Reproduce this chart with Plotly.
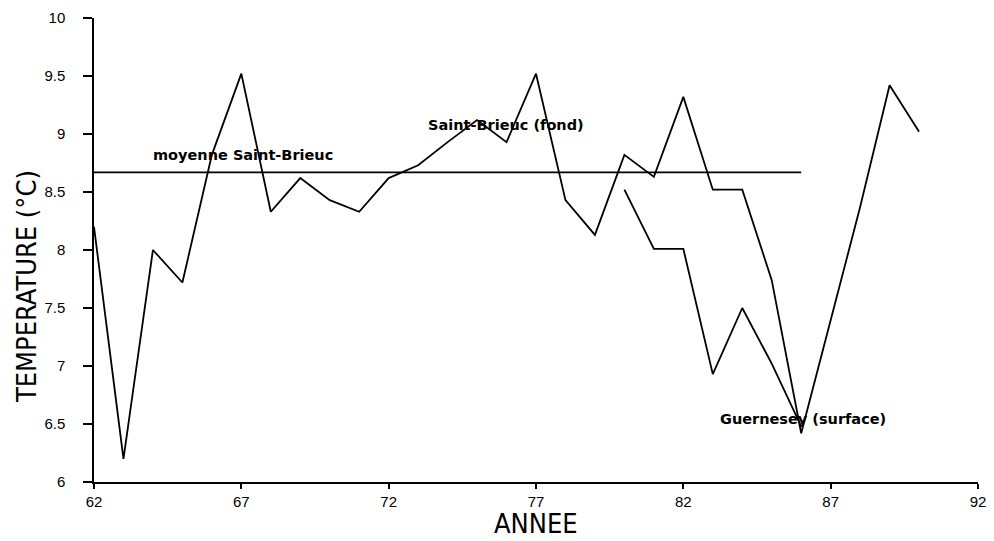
import plotly.graph_objects as go

# Sea temperature series (°C) by year (19xx)
years_sb = list(range(62, 91))
temp_sb = [8.20, 6.20, 8.00, 7.72, 8.82, 9.52, 8.33, 8.62, 8.43, 8.33,
           8.62, 8.73, 8.93, 9.12, 8.93, 9.52, 8.43, 8.13, 8.82, 8.63,
           9.32, 8.52, 8.52, 7.74, 6.42, 7.40, 8.37, 9.42, 9.02]

years_gu = list(range(80, 87))
temp_gu = [8.52, 8.01, 8.01, 6.93, 7.50, 7.02, 6.48]

# Long-term mean at Saint-Brieuc
years_mean = [62, 86]
temp_mean = [8.67, 8.67]

x_ticks = [62, 67, 72, 77, 82, 87, 92]
y_ticks = [6, 6.5, 7, 7.5, 8, 8.5, 9, 9.5, 10]
y_ticklabels = ["6", "6.5", "7", "7.5", "8", "8.5", "9", "9.5", "10"]

line_style = dict(color="black", width=1.8)

fig = go.Figure()
fig.add_trace(go.Scatter(x=years_mean, y=temp_mean, mode="lines", line=line_style))
fig.add_trace(go.Scatter(x=years_sb, y=temp_sb, mode="lines", line=line_style))
fig.add_trace(go.Scatter(x=years_gu, y=temp_gu, mode="lines", line=line_style))

label_font = dict(family="DejaVu Sans", size=14.5, color="black")
labels = [
    (63.93, 8.82, "moyenne Saint-Brieuc"),
    (73.27, 9.08, "Saint-Brieuc (fond)"),
    (83.18, 6.54, "Guernesey (surface)"),
]
for lx, ly, txt in labels:
    fig.add_annotation(x=lx, y=ly, text="<b>" + txt + "</b>", showarrow=False,
                       xanchor="left", yanchor="middle", font=label_font)

title_font = dict(family="Liberation Sans Narrow, DejaVu Sans Condensed, Liberation Sans",
                  size=27, color="black")
tick_font = dict(family="Liberation Sans", size=15, color="black")

# Axis titles, placed in pixel terms relative to the plot area
fig.add_annotation(text="TEMPERATURE (°C)", textangle=-90, showarrow=False,
                   xref="paper", yref="paper", x=0, y=0.42,
                   xanchor="center", yanchor="middle", xshift=-68,
                   font=title_font)
fig.add_annotation(text="ANNEE", showarrow=False,
                   xref="paper", yref="paper", x=0.5, y=0,
                   xanchor="center", yanchor="middle", yshift=-41,
                   font=title_font)

fig.update_layout(
    width=994, height=541,
    margin=dict(l=94, r=16, t=18, b=59, autoexpand=False),
    paper_bgcolor="white", plot_bgcolor="white",
    showlegend=False,
    xaxis=dict(
        range=[62, 92], tickvals=x_ticks, ticktext=[str(v) for v in x_ticks],
        showgrid=False, zeroline=False, showline=True, linecolor="black", linewidth=1.5,
        ticks="outside", ticklen=5, tickcolor="black", tickwidth=1.5,
        tickfont=tick_font, ticklabelstandoff=0, automargin=False,
    ),
    yaxis=dict(
        range=[6, 10], tickvals=y_ticks, ticktext=y_ticklabels,
        showgrid=False, zeroline=False, showline=True, linecolor="black", linewidth=1.5,
        ticks="outside", ticklen=9, tickcolor="black", tickwidth=1.5,
        tickfont=tick_font, ticklabelstandoff=15, automargin=False,
    ),
)

fig.write_html("out.html")
